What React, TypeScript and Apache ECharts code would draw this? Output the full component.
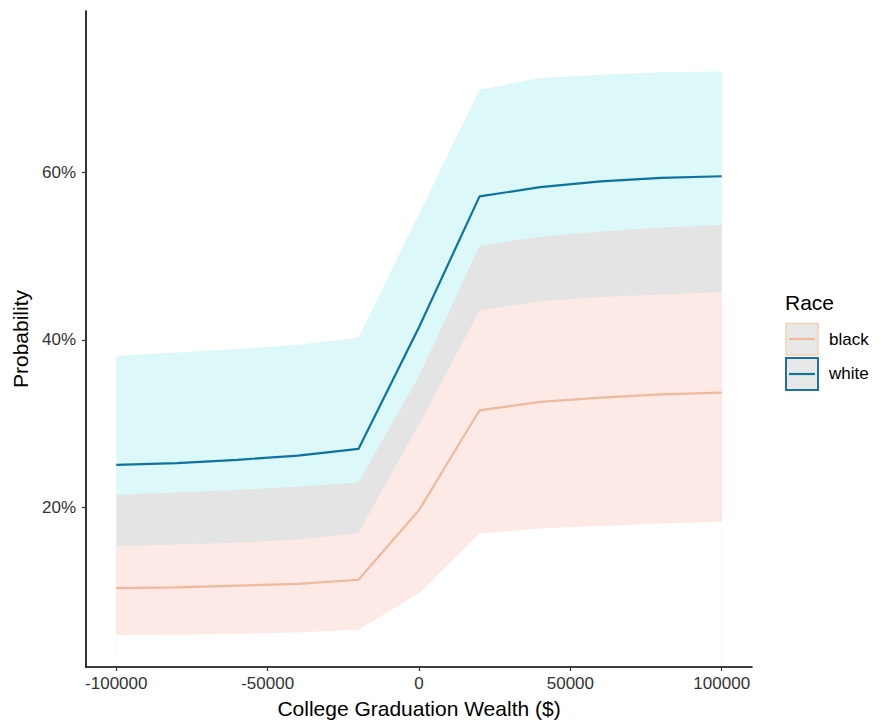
import React, { useEffect, useRef } from "react";
import * as echarts from "echarts";

const wealth = [-100000, -80000, -60000, -40000, -20000, 0, 20000, 40000, 60000, 80000, 100000];
const whiteFit = [25.1, 25.3, 25.7, 26.2, 27.0, 41.5, 57.1, 58.2, 58.9, 59.3, 59.5];
const whiteUpper = [38.1, 38.5, 38.9, 39.4, 40.25, 55.0, 69.8, 71.2, 71.6, 71.9, 72.0];
const whiteLower = [15.4, 15.6, 15.8, 16.2, 17.0, 29.9, 43.5, 44.6, 45.1, 45.4, 45.7];
const blackFit = [10.4, 10.5, 10.7, 10.9, 11.4, 19.7, 31.6, 32.6, 33.1, 33.5, 33.7];
const blackUpper = [21.5, 21.8, 22.1, 22.5, 23.0, 35.7, 51.2, 52.3, 52.9, 53.4, 53.7];
const blackLower = [4.8, 4.85, 4.95, 5.1, 5.45, 9.8, 16.9, 17.5, 17.8, 18.1, 18.3];

const xTicks = [-100000, -50000, 0, 50000, 100000];
const yTicks = [20, 40, 60];
const raceLabels = ["black", "white"];

const FONT = "Liberation Sans, Arial, Helvetica, sans-serif";

export default function App() {
  const ref = useRef<HTMLDivElement>(null);
  useEffect(() => {
    if (!ref.current) return;
    const chart = echarts.init(ref.current, null, { renderer: "svg" });
    const pair = (ys: number[]) => wealth.map((x, i) => [x, ys[i]]);
    // Each ribbon edge is filled down to the axis minimum; painted top edge first so
    // the later (lower) edges cover the earlier fills, giving opaque bands.
    const edge = (name: string, ys: number[], color: string, z: number) => ({
      name,
      type: "line",
      data: pair(ys),
      symbol: "none",
      silent: true,
      lineStyle: { width: 0, opacity: 0 },
      areaStyle: { color, opacity: 1, origin: "start" },
      z,
    });
    chart.setOption({
      animation: false,
      textStyle: { fontFamily: FONT },
      grid: { left: 86, width: 666, top: 11, height: 660, containLabel: false },
      xAxis: {
        type: "value",
        min: -110000,
        max: 110000,
        z: 10,
        name: "College Graduation Wealth ($)",
        nameLocation: "middle",
        nameGap: 31,
        nameTextStyle: { fontSize: 21, color: "#000", fontFamily: FONT },
        splitLine: { show: false },
        axisLine: { show: true, onZero: false, lineStyle: { color: "#000", width: 1.6 } },
        axisTick: { show: true, length: 4, customValues: xTicks, lineStyle: { color: "#333", width: 1.2 } },
        axisLabel: {
          customValues: xTicks,
          fontSize: 17,
          color: "#333",
          margin: 8,
          fontFamily: FONT,
          formatter: (v: number) => String(v),
        },
      },
      yAxis: {
        type: "value",
        min: 1.0,
        max: 79.2,
        z: 10,
        name: "Probability",
        nameLocation: "middle",
        nameGap: 51,
        nameTextStyle: { fontSize: 21, color: "#000", fontFamily: FONT },
        splitLine: { show: false },
        axisLine: { show: true, onZero: false, lineStyle: { color: "#000", width: 1.6 } },
        axisTick: { show: true, length: 4, customValues: yTicks, lineStyle: { color: "#333", width: 1.2 } },
        axisLabel: {
          customValues: yTicks,
          fontSize: 17,
          color: "#333",
          margin: 10,
          fontFamily: FONT,
          formatter: (v: number) => `${v}%`,
        },
      },
      series: [
        edge("white upper", whiteUpper, "#dcf8f8", 1),
        edge("black upper", blackUpper, "#e4e4e4", 1.1),
        edge("white lower", whiteLower, "#fdeae6", 1.2),
        edge("black lower", blackLower, "#ffffff", 1.3),
        {
          name: "white",
          type: "line",
          data: pair(whiteFit),
          symbol: "none",
          lineStyle: { color: "#0e73a0", width: 2.2 },
          z: 3,
        },
        {
          name: "black",
          type: "line",
          data: pair(blackFit),
          symbol: "none",
          lineStyle: { color: "#efb99c", width: 2.2 },
          z: 3,
        },
      ],
      graphic: [
        {
          type: "text",
          x: 785,
          y: 302,
          style: { text: "Race", fontSize: 21, fill: "#000", verticalAlign: "middle", fontFamily: FONT },
        },
        {
          type: "rect",
          shape: { x: 786, y: 323.5, width: 32, height: 31.5 },
          style: { fill: "#e8e8e8", stroke: "#f5cfb6", lineWidth: 1.5 },
        },
        {
          type: "line",
          shape: { x1: 789, y1: 339, x2: 815, y2: 339 },
          style: { stroke: "#efb99c", lineWidth: 2.2 },
        },
        {
          type: "text",
          x: 829,
          y: 339,
          style: { text: raceLabels[0], fontSize: 17, fill: "#000", verticalAlign: "middle", fontFamily: FONT },
        },
        {
          type: "rect",
          shape: { x: 786, y: 358, width: 32, height: 32 },
          style: { fill: "#e8e8e8", stroke: "#1a72a5", lineWidth: 2 },
        },
        {
          type: "line",
          shape: { x1: 789, y1: 374, x2: 815, y2: 374 },
          style: { stroke: "#0e73a0", lineWidth: 2.2 },
        },
        {
          type: "text",
          x: 829,
          y: 373,
          style: { text: raceLabels[1], fontSize: 17, fill: "#000", verticalAlign: "middle", fontFamily: FONT },
        },
      ],
    });
    return () => chart.dispose();
  }, []);
  return (
    <div
      ref={ref}
      style={{ position: "absolute", left: 0, top: 0, width: 880, height: 724 }}
    />
  );
}
